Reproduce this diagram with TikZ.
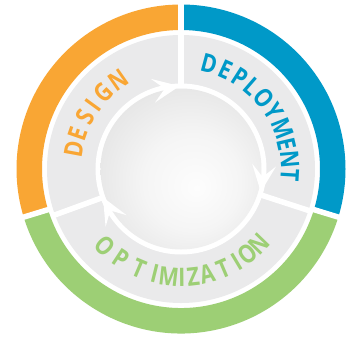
\documentclass[tikz,border=0pt]{standalone}
\usepackage{fontspec}
\setmainfont{Open Sans}
\newfontfamily\lettfont[FakeStretch=0.84]{Open Sans}
\definecolor{dorange}{HTML}{F9A634}
\definecolor{dblue}{HTML}{0099C8}
\definecolor{dgreen}{HTML}{9DCF75}
\definecolor{ringin}{HTML}{EAEAEB}
\definecolor{ringout}{HTML}{D9DADC}
\definecolor{sph0}{HTML}{FDFDFD}
\definecolor{sph1}{HTML}{F5F5F5}
\definecolor{sph2}{HTML}{E0E0E0}
\definecolor{sph3}{HTML}{C3C3C3}
\pgfdeclareradialshading{ringshade}{\pgfpointorigin}{color(0bp)=(ringin); color(31.7bp)=(ringin); color(50bp)=(ringout)}
\pgfdeclareradialshading{sphereshade}{\pgfpoint{5bp}{-6bp}}{color(0bp)=(sph0); color(15bp)=(sph1); color(35bp)=(sph2); color(50bp)=(sph3)}
\newcommand{\lett}[1]{\lettfont\fontsize{25.5pt}{30pt}\selectfont\bfseries #1}
\tikzset{
  letter/.style={inner sep=0pt},
  gapline/.style={white, line width=5.5pt},
  arrowhd/.style={fill=white},
}
\begin{document}
\begin{tikzpicture}
\useasboundingbox (-181pt,-169pt) rectangle (169pt,169pt);
\fill[white] (-181pt,-169pt) rectangle (169pt,169pt);
% outer coloured ring
\fill[dorange] (90:164.5pt) arc[start angle=90, end angle=197, radius=164.5pt] -- (197:139pt) arc[start angle=197, end angle=90, radius=139pt] -- cycle;
\fill[dblue] (-17:164.5pt) arc[start angle=-17, end angle=90, radius=164.5pt] -- (90:139pt) arc[start angle=90, end angle=-17, radius=139pt] -- cycle;
\fill[dgreen] (197:164.5pt) arc[start angle=197, end angle=343, radius=164.5pt] -- (343:139pt) arc[start angle=343, end angle=197, radius=139pt] -- cycle;
\foreach \g in {90,-17,197} \draw[gapline] (\g:136pt) -- (\g:170pt);
% gray ring
\shade[shading=ringshade] (0,0) circle (134pt);
\foreach \g in {90,-18,200} \draw[gapline] (\g:84pt) -- (\g:136pt);
% white ring and sphere
\fill[white] (0,0) circle (85.5pt);
\shade[shading=sphereshade] (0,0) circle (80.5pt);
% arrowheads
\foreach \t in {91,-16,200}
  \fill[arrowhd, shift={(\t:83pt)}, rotate=\t-81] (0pt,0pt) -- (-27pt,12pt) -- (-15pt,0pt) -- (-27pt,-12pt) -- cycle;
% texts
\foreach \l/\a [count=\i] in {D/169.5,E/161,S/151.5,I/144,G/135.5,N/125}
  \node[letter, text=dorange, rotate=\a-90] (des\i) at (\a:109pt) {\lett{\l}};
\foreach \l/\a [count=\i] in {D/75,E/65.5,P/57.5,L/49,O/40.5,Y/32,M/21.5,E/13,N/5,T/-3.5}
  \node[letter, text=dblue, rotate=\a-90] (dep\i) at (\a:109pt) {\lett{\l}};
\foreach \l/\a [count=\i] in {O/225.5,P/236.5,T/247,I/256,M/263.5,I/270.5,Z/276.5,A/284,T/293,I/301,O/308,N/316}
  \node[letter, text=dgreen, rotate=\a+90] (opt\i) at (\a:108pt) {\lett{\l}};
\end{tikzpicture}
\end{document}
